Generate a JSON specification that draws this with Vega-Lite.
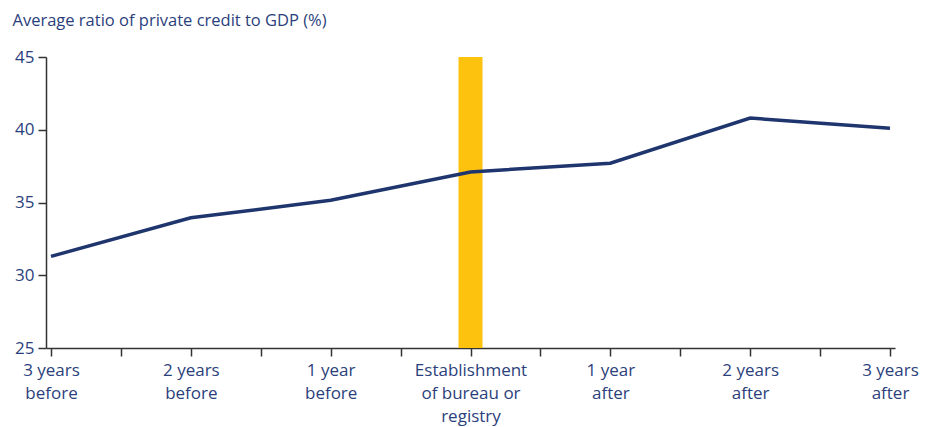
{
  "$schema": "https://vega.github.io/schema/vega-lite/v6.json",
  "autosize": "none",
  "padding": {"left": 46, "top": 57, "right": 34, "bottom": 79},
  "width": 849,
  "height": 291,
  "background": "white",
  "config": {
    "view": {"stroke": null},
    "font": "Open Sans",
    "axis": {"grid": false, "domainColor": "#333333", "tickColor": "#333333", "labelColor": "#2b3f7c", "labelFont": "Open Sans", "titleFont": "Open Sans", "titleColor": "#2b3f7c"}
  },
  "datasets": {
    "series": [
      {"pos": 0, "period": "3 years before", "ratio": 31.3},
      {"pos": 1, "period": "2 years before", "ratio": 33.95},
      {"pos": 2, "period": "1 year before", "ratio": 35.15},
      {"pos": 3, "period": "Establishment of bureau or registry", "ratio": 37.1},
      {"pos": 4, "period": "1 year after", "ratio": 37.7},
      {"pos": 5, "period": "2 years after", "ratio": 40.8},
      {"pos": 6, "period": "3 years after", "ratio": 40.1}
    ],
    "marker": [
      {"pos": 3, "low": 25, "high": 45}
    ]
  },
  "layer": [
    {
      "data": {"name": "marker"},
      "mark": {"type": "bar", "color": "#fdc20e", "size": 24},
      "encoding": {
        "x": {"field": "pos", "type": "quantitative"},
        "y": {"field": "high", "type": "quantitative"},
        "y2": {"field": "low"}
      }
    },
    {
      "data": {"name": "series"},
      "mark": {"type": "line", "color": "#1f356d", "strokeWidth": 3.5},
      "encoding": {
        "x": {
          "field": "pos", "type": "quantitative",
          "scale": {"domain": [0, 6], "nice": false, "zero": false},
          "axis": {
            "title": null,
            "values": [0, 0.5, 1, 1.5, 2, 2.5, 3, 3.5, 4, 4.5, 5, 5.5, 6],
            "tickSize": 8,
            "tickWidth": 1.5,
            "domainWidth": 1.5,
            "labelFontSize": 17,
            "labelPadding": 6,
            "labelFlush": false,
            "labelOverlap": false,
            "labelLineHeight": 23,
            "labelBaseline": "top",
            "labelExpr": "datum.value == 0 ? ['3 years', 'before'] : datum.value == 1 ? ['2 years', 'before'] : datum.value == 2 ? ['1 year', 'before'] : datum.value == 3 ? ['Establishment', 'of bureau or', 'registry'] : datum.value == 4 ? ['1 year', 'after'] : datum.value == 5 ? ['2 years', 'after'] : datum.value == 6 ? ['3 years', 'after'] : ''"
          }
        },
        "y": {
          "field": "ratio", "type": "quantitative",
          "scale": {"domain": [25, 45], "nice": false, "zero": false},
          "axis": {
            "values": [25, 30, 35, 40, 45],
            "tickSize": 8,
            "tickWidth": 1.5,
            "domainWidth": 1.5,
            "labelFontSize": 17,
            "labelPadding": 4,
            "title": "Average ratio of private credit to GDP (%)",
            "titleAngle": 0,
            "titleAlign": "left",
            "titleBaseline": "alphabetic",
            "titleX": -34,
            "titleY": -32,
            "titleFontSize": 16.5,
            "titleFontWeight": "normal"
          }
        }
      }
    }
  ]
}
